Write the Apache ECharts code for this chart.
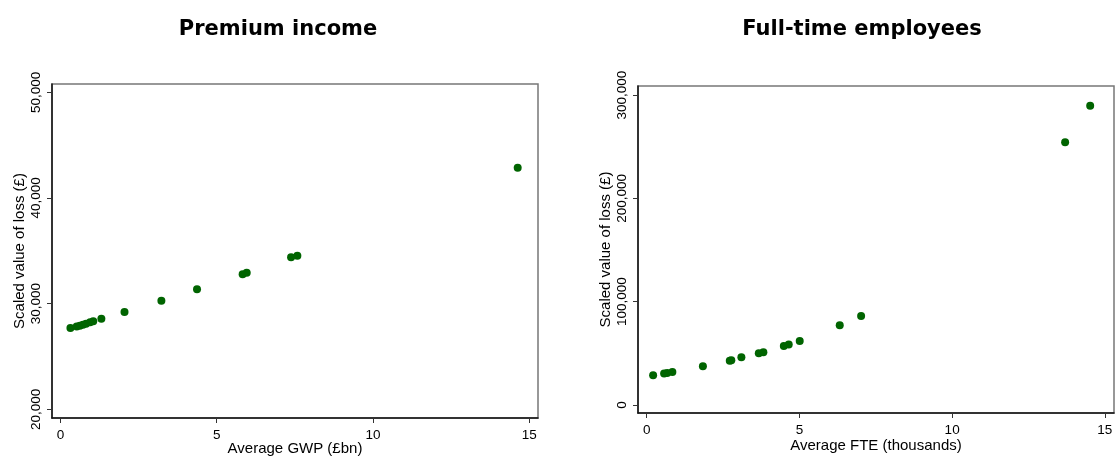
<!DOCTYPE html>
<html>
<head>
<meta charset="utf-8">
<script src="https://cdn.jsdelivr.net/npm/echarts@6/dist/echarts.min.js"></script>
<style>
html,body{margin:0;padding:0;background:#fff;}
#chart{width:1116px;height:458px;}
</style>
</head>
<body>
<div id="chart"></div>
<script>
// ---- Data ----
const gwpTitle = "Premium income";
const fteTitle = "Full-time employees";
const yAxisName = "Scaled value of loss (£)";
const gwpXName = "Average GWP (£bn)";
const fteXName = "Average FTE (thousands)";

const gwpX = [0.32, 0.52, 0.62, 0.72, 0.82, 0.95, 1.05, 1.31, 2.05, 3.23, 4.37, 5.83, 5.96, 7.38, 7.58, 14.63];
const gwpY = [27690, 27830, 27910, 28000, 28090, 28230, 28330, 28570, 29200, 30270, 31350, 32770, 32920, 34380, 34530, 42860];

const fteX = [0.21, 0.57, 0.67, 0.84, 1.84, 2.72, 2.77, 3.10, 3.67, 3.82, 4.49, 4.65, 5.01, 6.32, 7.02, 13.70, 14.52];
const fteY = [28750, 30400, 31000, 31950, 37460, 42800, 43300, 46180, 50050, 51020, 57110, 58470, 61950, 77150, 86150, 254300, 289800];

const gwpXTicks = [0, 5, 10, 15];
const gwpYTicks = [20000, 30000, 40000, 50000];
const fteXTicks = [0, 5, 10, 15];
const fteYTicks = [0, 100000, 200000, 300000];

// ---- Chart ----
const fmt = v => Number(v).toLocaleString('en-US');
const txt = '#000';
const FONT = '"Liberation Sans", Arial, sans-serif';
const labelFont = {fontFamily: FONT, fontSize: 13.5, color: txt};

function xAxis(gridIndex, min, max, ticks, name, gap, margin) {
  return {
    type: 'value', gridIndex, min, max,
    name, nameLocation: 'middle', nameGap: gap, nameMoveOverlap: false,
    nameTextStyle: {fontFamily: FONT, fontSize: 15, color: txt},
    splitLine: {show: false},
    axisLine: {show: true, onZero: false, lineStyle: {color: '#111', width: 1.5}},
    axisTick: {show: true, inside: false, length: 5, customValues: ticks, lineStyle: {color: '#333'}},
    axisLabel: Object.assign({customValues: ticks, margin: margin, formatter: fmt}, labelFont)
  };
}
function yAxis(gridIndex, min, max, ticks, name) {
  return {
    type: 'value', gridIndex, min, max,
    name, nameLocation: 'middle', nameGap: 25, nameRotate: 90, nameMoveOverlap: false,
    nameTextStyle: {fontFamily: FONT, fontSize: 15, color: txt},
    splitLine: {show: false},
    axisLine: {show: true, onZero: false, lineStyle: {color: '#111', width: 1.5}},
    axisTick: {show: true, inside: false, length: 5, customValues: ticks, lineStyle: {color: '#333'}},
    axisLabel: Object.assign({customValues: ticks, rotate: 90, margin: 9, formatter: fmt}, labelFont)
  };
}

const titleStyle = {fontFamily: '"DejaVu Sans", Verdana, sans-serif', fontWeight: 'bold', fontSize: 21, color: '#000'};

const chart = echarts.init(document.getElementById('chart'), null, {renderer: 'canvas'});
chart.setOption({
  backgroundColor: '#fff',
  animation: false,
  title: [
    {text: gwpTitle, left: 273, top: 14, textAlign: 'center', textStyle: titleStyle},
    {text: fteTitle, left: 857, top: 14, textAlign: 'center', textStyle: titleStyle}
  ],
  grid: [
    {left: 52, top: 84, width: 486, height: 334, show: true, borderColor: '#777', borderWidth: 1.5,
     backgroundColor: '#fff', containLabel: false, outerBoundsMode: 'none'},
    {left: 638, top: 86, width: 476, height: 327, show: true, borderColor: '#777', borderWidth: 1.5,
     backgroundColor: '#fff', containLabel: false, outerBoundsMode: 'none'}
  ],
  xAxis: [
    xAxis(0, -0.27, 15.28, gwpXTicks, gwpXName, 23, 10),
    xAxis(1, -0.285, 15.3, fteXTicks, fteXName, 25, 10)
  ],
  yAxis: [
    yAxis(0, 19177, 50785, gwpYTicks, yAxisName),
    yAxis(1, -7740, 308800, fteYTicks, yAxisName)
  ],
  series: [
    {type: 'scatter', xAxisIndex: 0, yAxisIndex: 0, symbol: 'circle', symbolSize: 8,
     itemStyle: {color: '#006400', opacity: 1},
     data: gwpX.map((x, i) => [x, gwpY[i]])},
    {type: 'scatter', xAxisIndex: 1, yAxisIndex: 1, symbol: 'circle', symbolSize: 8,
     itemStyle: {color: '#006400', opacity: 1},
     data: fteX.map((x, i) => [x, fteY[i]])}
  ]
});
</script>
</body>
</html>
